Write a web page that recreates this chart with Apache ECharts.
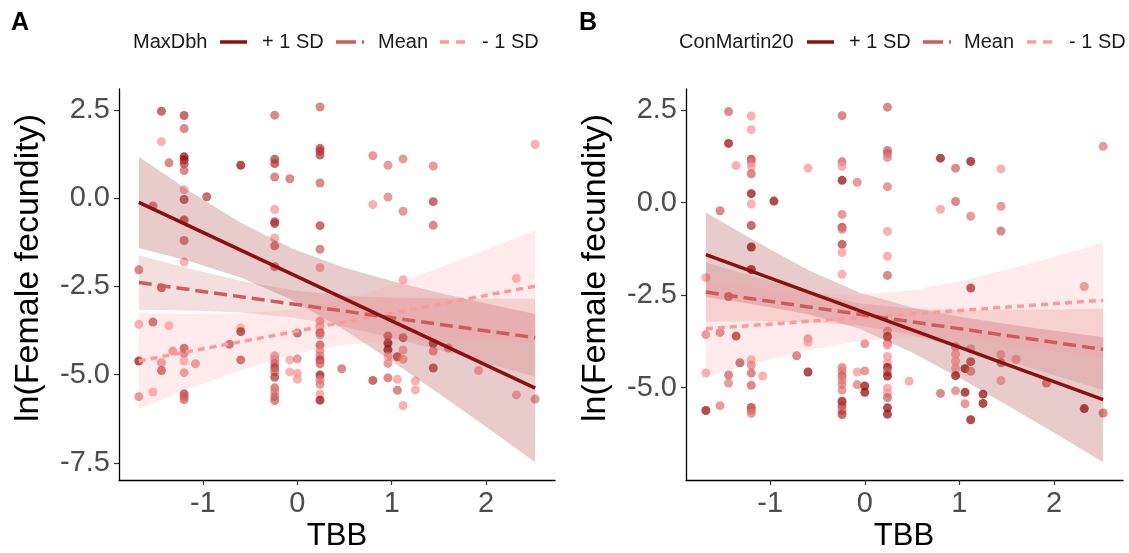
<!DOCTYPE html>
<html><head><meta charset="utf-8">
<script src="https://cdn.jsdelivr.net/npm/echarts@6/dist/echarts.min.js"></script>
<style>html,body{margin:0;padding:0;background:#fff}#c{width:1129px;height:553px}</style>
</head><body><div id="c"></div>
<script>
// ---- data ----
const tbb = [
 -1.68,-1.68,-1.68,-1.68,
 -1.53,-1.53,-1.53,
 -1.44,-1.44,-1.44,-1.44,-1.44,
 -1.36,-1.36,
 -1.32,
 -1.2,-1.2,-1.2,-1.2,-1.2,-1.2,-1.2,-1.2,-1.2,-1.2,-1.2,-1.2,-1.2,-1.2,-1.2,-1.2,-1.2,-1.2,
 -1.08,
 -0.96,
 -0.72,
 -0.60,-0.60,-0.60,-0.60,
 -0.24,-0.24,-0.24,-0.24,-0.24,-0.24,-0.24,-0.24,-0.24,-0.24,-0.24,-0.24,-0.24,-0.24,-0.24,-0.24,-0.24,-0.24,-0.24,-0.24,
 -0.08,-0.08,-0.08,
 0.0,0.0,0.0,0.0,
 0.24,0.24,0.24,0.24,0.24,0.24,0.24,0.24,0.24,0.24,0.24,0.24,0.24,0.24,0.24,0.24,0.24,0.24,0.24,0.24,0.24,0.24,
 0.47,
 0.80,0.80,0.80,
 0.96,0.96,0.96,0.96,0.96,0.96,0.96,0.96,
 1.06,1.06,1.06,
 1.12,1.12,1.12,1.12,1.12,1.12,1.12,
 1.25,1.25,
 1.44,1.44,1.44,1.44,1.44,1.44,
 1.60,
 1.92,
 2.32,2.32,
 2.52,2.52
];
const fecundity = [
 -2.03,-3.57,-4.61,-5.62,
 -0.22,-3.51,-5.49,
 2.46,1.60,-2.54,-4.66,-4.88,
 1.00,-3.61,
 -4.33,
 2.34,1.97,1.17,1.08,0.97,0.78,0.24,-0.04,-0.62,-1.20,-1.81,-4.25,-4.39,-4.61,-4.94,-5.54,-5.62,-5.70,
 -4.69,
 0.04,
 -4.14,
 0.93,-3.68,-3.78,-4.58,
 2.35,1.10,0.98,0.60,-0.32,-0.67,-0.72,-1.13,-1.35,-1.94,-4.46,-4.56,-4.68,-4.80,-4.92,-5.07,-5.37,-5.49,-5.62,-5.73,
 0.55,-4.58,-4.92,
 -3.82,-4.55,-4.96,-5.13,
 2.58,1.41,1.33,1.22,0.43,-0.78,-1.45,-1.97,-3.48,-3.62,-3.80,-3.86,-4.16,-4.33,-4.46,-4.58,-4.69,-5.01,-5.14,-5.27,-5.55,-5.72,
 -4.83,
 1.20,-0.18,-5.16,
 0.93,0.03,-3.90,-4.10,-4.29,-4.48,-4.68,-5.09,
 -4.49,-5.13,-5.44,
 1.11,-0.37,-2.31,-3.95,-4.30,-4.56,-5.87,
 -5.18,-5.43,
 0.91,-0.10,-0.77,-4.11,-4.33,-4.81,
 -4.24,
 -4.88,
 -2.27,-5.57,
 1.52,-5.69
];
// moderator level per point (0 = low / light, 1 = high / dark)
const maxDbhLevel = [
 .5,.05,.95,.3,
 .5,.72,.05,
 .72,.05,.72,.3,.72,
 .5,.05,
 .3,
 .72,.5,.95,.95,.72,.5,.05,.72,.72,.5,.05,.72,.5,.05,.3,.72,.5,.5,
 .3,
 .72,
 .72,
 .95,.05,.95,.72,
 .5,.72,.72,.5,.05,.72,.72,.05,.5,.5,.3,.3,.5,.72,.5,.72,.5,.3,.5,.5,
 .5,.05,.05,
 .72,.3,.05,.05,
 .5,.72,.72,.72,.5,.72,.5,.05,.3,.3,.72,.5,.72,.3,.3,.72,.5,.95,.3,.3,.05,.95,
 .5,
 .3,.05,.72,
 .3,.3,.72,.95,.95,.05,.3,.5,
 .72,.05,.5,
 .3,.3,.05,.72,.05,.05,.05,
 .05,.05,
 .3,.72,.5,.95,.3,.72,
 .3,
 .05,
 .05,.05,
 .05,.3
];
const conMartinLevel = [
 .05,.3,.05,.95,
 .5,.5,.3,
 .5,.95,.72,.5,.3,
 .05,.95,
 .72,
 .05,.05,.72,.3,.05,.5,.95,.05,.72,.95,.95,.05,.3,.5,.5,.72,.5,.3,
 .05,
 .95,
 .5,
 .05,.3,.05,.95,
 .5,.5,.05,.95,.3,.72,.3,.72,.05,.05,.3,.3,.5,.3,.3,.3,.95,.72,.5,.72,
 .3,.05,.3,
 .3,.3,.95,.95,
 .5,.5,.5,.3,.3,.05,.05,.5,.3,.95,.5,.05,.05,.05,.95,.5,.95,.05,.05,.5,.95,.95,
 .05,
 .95,.05,.5,
 .5,.5,.3,.05,.05,.05,.95,.3,
 .95,.95,.3,
 .95,.3,.95,.05,.72,.3,.95,
 .95,.95,
 .05,.3,.5,.05,.5,.05,
 .05,
 .5,
 .3,.95,
 .3,.5
];
const xTicks = [-1, 0, 1, 2];
const yTicksA = [-7.5, -5, -2.5, 0, 2.5];
const yTicksB = [-5, -2.5, 0, 2.5];
const seriesNames = ['+ 1 SD', 'Mean', '- 1 SD'];

// fitted lines (ends)
const lineX = [-1.68, 2.52];
const A_plus = [-0.12, -5.38];
const A_mean = [-2.39, -3.95];
const A_minus = [-4.61, -2.49];
const B_plus = [-1.41, -5.33];
const B_mean = [-2.42, -3.97];
const B_minus = [-3.41, -2.64];

// confidence bands
const bandX = [-1.68, -1.15, -0.6, -0.05, 0.5, 1.05, 1.6, 2.05, 2.52];
const A_plus_hi = [1.17, 0.21, -0.70, -1.43, -1.97, -2.38, -2.74, -3.01, -3.28];
const A_plus_lo = [-1.41, -1.78, -2.25, -2.89, -3.73, -4.70, -5.72, -6.57, -7.48];
const A_mean_hi = [-1.62, -1.99, -2.34, -2.61, -2.76, -2.82, -2.84, -2.85, -2.85];
const A_mean_lo = [-3.16, -3.18, -3.24, -3.38, -3.64, -3.99, -4.37, -4.70, -5.06];
const A_minus_hi = [-3.26, -3.28, -3.26, -3.15, -2.87, -2.42, -1.88, -1.41, -0.91];
const A_minus_lo = [-5.96, -5.40, -4.87, -4.42, -4.15, -4.04, -4.03, -4.04, -4.08];
const B_plus_hi = [-0.27, -1.05, -1.82, -2.44, -2.84, -3.11, -3.32, -3.48, -3.64];
const B_plus_lo = [-2.55, -2.76, -3.02, -3.42, -4.05, -4.81, -5.62, -6.30, -7.02];
const B_mean_hi = [-1.62, -2.02, -2.41, -2.73, -2.87, -2.91, -2.90, -2.89, -2.87];
const B_mean_lo = [-3.22, -3.21, -3.23, -3.32, -3.58, -3.95, -4.36, -4.70, -5.07];
const B_minus_hi = [-2.12, -2.30, -2.44, -2.49, -2.37, -2.10, -1.75, -1.43, -1.08];
const B_minus_lo = [-4.70, -4.33, -3.99, -3.74, -3.65, -3.72, -3.87, -4.03, -4.20];

// ---- styling ----
const FONT = '"Liberation Sans", Arial, sans-serif';
const C_PLUS = '#8B1010', C_MEAN = '#CD5C5C', C_MINUS = '#FF9999';
const F_PLUS = 'rgba(139,0,0,0.2)', F_MEAN = 'rgba(205,92,92,0.2)', F_MINUS = 'rgba(255,153,153,0.2)';

const chart = echarts.init(document.getElementById('c'), null, {renderer: 'canvas'});

function xAxisCfg(gi) {
  return {
    gridIndex: gi, type: 'value', min: -1.89, max: 2.73,
    axisLine: {show: true, onZero: false, lineStyle: {color: '#000', width: 1.3}},
    axisTick: {show: true, length: 5, customValues: xTicks, lineStyle: {color: '#333', width: 1.2}},
    axisLabel: {customValues: xTicks, fontSize: 29, color: '#4D4D4D', margin: 9, fontFamily: FONT},
    splitLine: {show: false}
  };
}
function yAxisCfg(gi, min, max, ticks) {
  return {
    gridIndex: gi, type: 'value', min: min, max: max,
    axisLine: {show: true, onZero: false, lineStyle: {color: '#000', width: 1.3}},
    axisTick: {show: true, length: 5, customValues: ticks, lineStyle: {color: '#333', width: 1.2}},
    axisLabel: {customValues: ticks, fontSize: 29, color: '#4D4D4D', margin: 9, fontFamily: FONT,
      formatter: v => v.toFixed(1)},
    splitLine: {show: false}
  };
}
function bandSeries(gi, lo, hi, fill) {
  return {
    type: 'custom', xAxisIndex: gi, yAxisIndex: gi, silent: true, z: 3,
    data: [[bandX[0], lo[0]]],
    renderItem: function (params, api) {
      const pts = [];
      for (let i = 0; i < bandX.length; i++) pts.push(api.coord([bandX[i], hi[i]]));
      for (let i = bandX.length - 1; i >= 0; i--) pts.push(api.coord([bandX[i], lo[i]]));
      return {type: 'polygon', shape: {points: pts}, style: {fill: fill, stroke: null}};
    }
  };
}
function lineSeries(gi, ys, color, dash, name) {
  return {
    type: 'line', name: name, xAxisIndex: gi, yAxisIndex: gi, silent: true, z: 5,
    symbol: 'none', data: [[lineX[0], ys[0]], [lineX[1], ys[1]]],
    lineStyle: {color: color, width: 3.5, type: dash}
  };
}
function scatterSeries(gi, levels) {
  return {
    type: 'scatter', xAxisIndex: gi, yAxisIndex: gi, silent: true, z: 2,
    symbolSize: 9,
    itemStyle: {opacity: 0.72},
    data: tbb.map((x, i) => [x, fecundity[i], levels[i]])
  };
}
function legendGraphics(title, pos) {
  const y = 42;
  const txt = (x, t) => ({type: 'text', x: x, y: y, style: {text: t, font: '20px ' + FONT, fill: '#1a1a1a', textVerticalAlign: 'middle'}});
  const ln = (a, b, color, dash) => ({type: 'line', shape: {x1: a, y1: y, x2: b, y2: y}, style: {stroke: color, lineWidth: 3.5, lineDash: dash}});
  return [
    txt(pos[0], title),
    ln(pos[1], pos[1] + 27, C_PLUS, null),
    txt(pos[2], seriesNames[0]),
    ln(pos[3], pos[3] + 28, C_MEAN, [20, 6]),
    txt(pos[4], seriesNames[1]),
    ln(pos[5], pos[5] + 25, C_MINUS, [9, 7]),
    txt(pos[6], seriesNames[2])
  ];
}

const option = {
  backgroundColor: '#fff',
  animation: false,
  grid: [
    {left: 119, top: 89, width: 436, height: 391, containLabel: false, outerBoundsMode: 'none'},
    {left: 686, top: 89, width: 437, height: 391, containLabel: false, outerBoundsMode: 'none'}
  ],
  xAxis: [xAxisCfg(0), xAxisCfg(1)],
  yAxis: [yAxisCfg(0, -7.98, 3.09, yTicksA), yAxisCfg(1, -7.5, 3.07, yTicksB)],
  visualMap: [
    {show: false, type: 'continuous', seriesIndex: 0, dimension: 2, min: 0, max: 1,
     inRange: {color: [C_MINUS, C_MEAN, '#8B0000']}},
    {show: false, type: 'continuous', seriesIndex: 1, dimension: 2, min: 0, max: 1,
     inRange: {color: [C_MINUS, C_MEAN, '#8B0000']}}
  ],
  series: [
    scatterSeries(0, maxDbhLevel),
    scatterSeries(1, conMartinLevel),
    bandSeries(0, A_plus_lo, A_plus_hi, F_PLUS),
    bandSeries(0, A_mean_lo, A_mean_hi, F_MEAN),
    bandSeries(0, A_minus_lo, A_minus_hi, F_MINUS),
    bandSeries(1, B_plus_lo, B_plus_hi, F_PLUS),
    bandSeries(1, B_mean_lo, B_mean_hi, F_MEAN),
    bandSeries(1, B_minus_lo, B_minus_hi, F_MINUS),
    lineSeries(0, A_minus, C_MINUS, [7, 5], seriesNames[2]),
    lineSeries(0, A_mean, C_MEAN, [13, 6], seriesNames[1]),
    lineSeries(0, A_plus, C_PLUS, 'solid', seriesNames[0]),
    lineSeries(1, B_minus, C_MINUS, [7, 5], seriesNames[2]),
    lineSeries(1, B_mean, C_MEAN, [13, 6], seriesNames[1]),
    lineSeries(1, B_plus, C_PLUS, 'solid', seriesNames[0])
  ],
  graphic: [
    {type: 'text', x: 11, y: 23, style: {text: 'A', font: 'bold 25px ' + FONT, fill: '#000', textVerticalAlign: 'middle'}},
    {type: 'text', x: 579, y: 23, style: {text: 'B', font: 'bold 25px ' + FONT, fill: '#000', textVerticalAlign: 'middle'}},
    ...legendGraphics('MaxDbh', [133, 220, 262, 336, 378, 440, 482]),
    ...legendGraphics('ConMartin20', [679, 807, 849, 923, 964, 1027, 1069]),
    {type: 'text', x: 337, y: 536, style: {text: 'TBB', font: '31px ' + FONT, fill: '#000', textAlign: 'center', textVerticalAlign: 'middle'}},
    {type: 'text', x: 904, y: 536, style: {text: 'TBB', font: '31px ' + FONT, fill: '#000', textAlign: 'center', textVerticalAlign: 'middle'}},
    {type: 'text', x: 29, y: 268, rotation: Math.PI / 2, style: {text: 'ln(Female fecundity)', font: '34px ' + FONT, fill: '#000', textAlign: 'center', textVerticalAlign: 'middle'}},
    {type: 'text', x: 596, y: 268, rotation: Math.PI / 2, style: {text: 'ln(Female fecundity)', font: '34px ' + FONT, fill: '#000', textAlign: 'center', textVerticalAlign: 'middle'}}
  ]
};
chart.setOption(option);
</script>
</body></html>
